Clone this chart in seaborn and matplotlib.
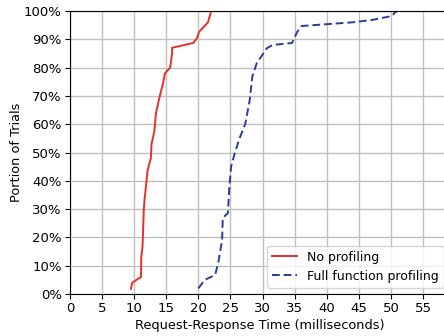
import matplotlib
matplotlib.use("Agg")
import matplotlib.pyplot as plt
import seaborn as sns
import pandas as pd
from matplotlib.ticker import PercentFormatter

# Curve knots (time in ms, portion of trials in %)
no_prof_ms = [9.5, 9.7, 11.06, 11.1, 11.3, 11.5, 11.6, 12.1, 12.6, 12.7, 13.1, 13.2,
              13.4, 13.5, 14.0, 14.5, 14.8, 15.6, 15.9, 15.9, 19.2, 19.8, 20.1, 21.5, 22.0]
no_prof_pct = [1.8, 4.0, 6.0, 13.0, 16.6, 29.7, 33.0, 43.8, 48.0, 53.0, 57.0, 59.0,
               64.0, 65.0, 70.0, 74.5, 78.0, 80.0, 85.0, 87.0, 88.7, 90.4, 92.6, 96.0, 100.0]

full_prof_ms = [20.0, 21.0, 22.6, 23.1, 23.7, 23.8, 24.6, 24.8, 25.1, 25.7, 26.5, 27.3,
                28.0, 28.4, 29.1, 30.7, 31.6, 34.6, 35.4, 36.1, 44.0, 47.0, 50.1, 50.9]
full_prof_pct = [2.0, 5.0, 6.7, 11.0, 19.0, 26.8, 28.6, 36.7, 45.0, 50.0, 55.5, 60.0,
                 68.5, 76.7, 81.6, 86.9, 88.0, 88.7, 92.6, 94.7, 96.0, 96.8, 98.2, 100.0]

series_names = ["No profiling", "Full function profiling"]
x_ticks = list(range(0, 56, 5))
y_ticks = list(range(0, 101, 10))

df = pd.concat([
    pd.DataFrame({"ms": no_prof_ms, "pct": no_prof_pct, "series": series_names[0]}),
    pd.DataFrame({"ms": full_prof_ms, "pct": full_prof_pct, "series": series_names[1]}),
], ignore_index=True)

plt.rcParams["font.family"] = ["DejaVu Sans"]
fig = plt.figure(figsize=(4.44, 3.36), dpi=100)
ax = fig.add_axes([70 / 444, 1 - 294 / 336, (450 - 70) / 444, (294 - 11) / 336])

sns.lineplot(data=df, x="ms", y="pct", hue="series", style="series",
             palette={series_names[0]: "#e8302a", series_names[1]: "#2a3d99"},
             dashes={series_names[0]: "", series_names[1]: (4, 2)},
             sort=False, estimator=None, linewidth=1.4, ax=ax)

ax.set_xlim(0, 380 / 6.418)
ax.set_ylim(0, 100)
ax.set_xticks(x_ticks)
ax.set_yticks(y_ticks)
ax.yaxis.set_major_formatter(PercentFormatter(decimals=0))
ax.grid(True, color="#c0c0c0", linewidth=1.0)
ax.set_axisbelow(True)
ax.tick_params(labelsize=9.5, pad=2.5)
ax.set_xlabel("Request-Response Time (milliseconds)", fontsize=9.3, labelpad=2.5)
ax.set_ylabel("Portion of Trials", fontsize=9.3, labelpad=0.5)
ax.spines["right"].set_visible(False)

leg = ax.legend(loc="lower right", fontsize=9, frameon=True, title=None,
                borderaxespad=0.5)

fig.savefig("out.png", dpi=100)
